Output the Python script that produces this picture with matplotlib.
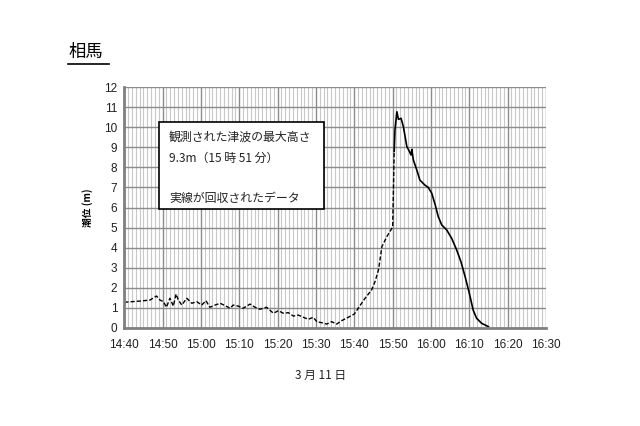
import matplotlib
matplotlib.use("Agg")
import matplotlib.pyplot as plt
from matplotlib.patches import Rectangle
from matplotlib.lines import Line2D
import numpy as np

plt.rcParams['font.family'] = ['Liberation Sans', 'Noto Sans CJK JP', 'DejaVu Sans']

# minutes after 14:40
dashed_t = [0, 4.1, 6.7, 8.4, 9.3, 10.2, 11.0, 11.9, 12.8, 13.5, 14.1, 15.0, 16.3, 17.6,
            18.9, 20.2, 21.3, 22.3, 23.7, 25.0, 26.3, 27.6, 28.4, 29.7, 31.0, 32.8, 34.1,
            35.4, 37.1, 38.9, 40.2, 41.5, 42.8, 44.1, 45.4, 46.7, 48.0, 49.3, 50.2, 51.5,
            52.8, 54.1, 55.4, 56.7, 58.4, 60.0, 61.3, 62.8, 64.5, 65.4, 66.3, 67.2, 68.5,
            69.8, 70.0, 70.4]
dashed_v = [1.27, 1.33, 1.38, 1.58, 1.38, 1.30, 1.02, 1.47, 1.08, 1.68, 1.38, 1.13, 1.47, 1.22,
            1.30, 1.13, 1.35, 1.02, 1.13, 1.22, 1.10, 0.97, 1.13, 1.08, 0.97, 1.18, 1.02,
            0.92, 1.02, 0.72, 0.85, 0.72, 0.75, 0.58, 0.63, 0.52, 0.42, 0.52, 0.30, 0.25,
            0.18, 0.30, 0.18, 0.35, 0.52, 0.68, 1.05, 1.47, 1.88, 2.30, 2.88, 4.05, 4.55,
            4.96, 5.00, 8.80]
solid_t = [70.4, 70.6, 71.1, 71.5, 72.2, 72.8, 73.7, 74.1, 74.8, 75.0, 75.4, 76.3, 77.1,
           78.4, 79.3, 80.2, 81.1, 81.9, 82.8, 84.1, 85.4, 86.7, 87.8, 88.9, 90.0, 91.0,
           91.9, 93.2, 95.0]
solid_v = [8.80, 9.87, 10.78, 10.40, 10.45, 10.03, 9.04, 8.90, 8.62, 8.90, 8.37, 7.87, 7.37,
           7.12, 7.00, 6.71, 6.13, 5.54, 5.13, 4.88, 4.46, 3.88, 3.30, 2.55, 1.72, 0.88,
           0.47, 0.22, 0.05]
x_ticks = [0, 10, 20, 30, 40, 50, 60, 70, 80, 90, 100, 110]
x_labels = ["14:40", "14:50", "15:00", "15:10", "15:20", "15:30", "15:40", "15:50",
            "16:00", "16:10", "16:20", "16:30"]
y_ticks = list(range(0, 13))

fig = plt.figure(figsize=(6.4, 4.26), dpi=100)
ax = fig.add_axes([124.3/640, 1-327.7/426, (546-124.3)/640, (327.7-87.3)/426])
ax.set_xlim(0, 110)
ax.set_ylim(0, 12)

ax.set_xticks(x_ticks)
ax.set_xticklabels(x_labels)
ax.set_xticks(np.arange(0, 111, 1), minor=True)
ax.set_yticks(y_ticks)
ax.grid(which='minor', axis='x', color='#c8c8c8', linewidth=0.8)
ax.grid(which='major', axis='x', color='#8c8c8c', linewidth=1.0)
ax.grid(which='major', axis='y', color='#8c8c8c', linewidth=1.0)
ax.set_axisbelow(True)
for s in ['top', 'right']:
    ax.spines[s].set_visible(False)
for s in ['left', 'bottom']:
    ax.spines[s].set_color('#808080')
    ax.spines[s].set_linewidth(2)
ax.tick_params(which='both', length=0, labelsize=8.5, colors='#202020', pad=5)
ax.tick_params(axis='x', pad=8)

ax.plot(dashed_t, dashed_v, color='black', linewidth=1.0, linestyle=(0, (3, 1.5)))
ax.plot(solid_t, solid_v, color='black', linewidth=1.2)

ax.set_ylabel("潮位 (m)", fontsize=7, fontweight='bold',
              family=['Noto Sans CJK JP', 'DejaVu Sans'])
ax.yaxis.set_label_coords(-(124.3-93)/421.7, 0.5)

# annotation box
box = Rectangle((159/640, 1-209/426), (324-159)/640, (209-122)/426, transform=fig.transFigure,
                facecolor='white', edgecolor='black', linewidth=1.2, zorder=5)
fig.patches.append(box)
jp = ['Noto Sans CJK JP', 'DejaVu Sans']
fig.text(169/640, 1-137/426, "観測された津波の最大高さ", fontsize=8.6, family=jp,
         va='center', ha='left', color='#222222', zorder=6)
fig.text(169/640, 1-158/426, "9.3m（15 時 51 分）", fontsize=8.6, family=jp,
         va='center', ha='left', color='#222222', zorder=6)
fig.text(169/640, 1-198/426, "実線が回収されたデータ", fontsize=8.6, family=jp,
         va='center', ha='left', color='#222222', zorder=6)

# title
fig.text(69/640, 1-52/426, "相馬", fontsize=12.5, family=jp, va='center', ha='left', color='black')
fig.lines.append(Line2D([68/640, 109/640], [1-64/426, 1-64/426], transform=fig.transFigure,
                        color='black', linewidth=1.2))

fig.text(321/640, 1-375/426, "3 月 11 日", fontsize=8.5, family=jp, va='center', ha='center',
         color='#222222')

fig.savefig("out.png", dpi=100)
